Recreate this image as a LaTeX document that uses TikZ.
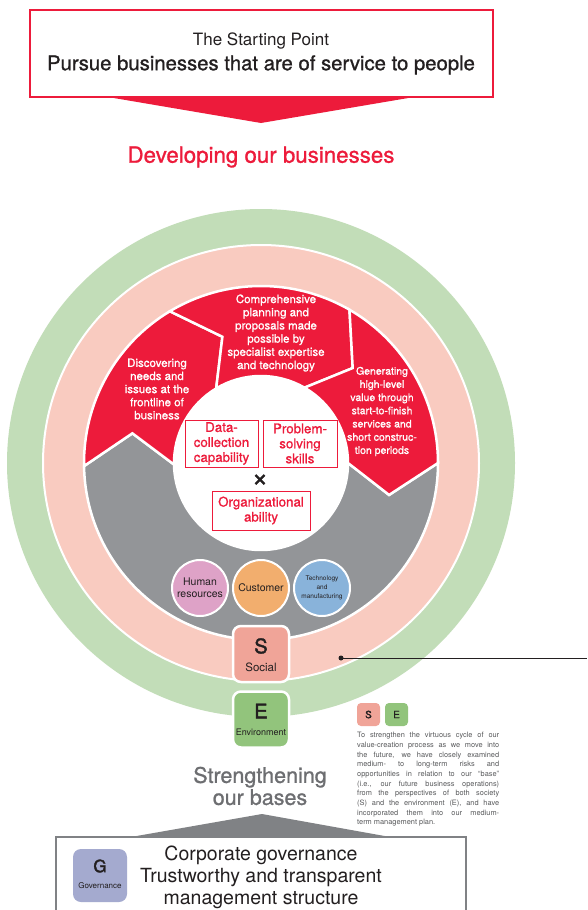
\documentclass[tikz,border=0pt]{standalone}
\usepackage{fontspec}
\setmainfont{TeX Gyre Heros}
\newfontfamily\medfont{TeX Gyre Heros}[FakeBold=2]
\newfontfamily\semifont{TeX Gyre Heros}[FakeBold=1]
\definecolor{cred}{RGB}{237,27,59}
\definecolor{cgray}{RGB}{147,149,152}
\definecolor{cpink}{RGB}{249,203,192}
\definecolor{cgreen}{RGB}{194,221,184}
\definecolor{csal}{RGB}{240,164,152}
\definecolor{cegreen}{RGB}{146,196,124}
\definecolor{chum}{RGB}{222,162,199}
\definecolor{ccust}{RGB}{242,174,110}
\definecolor{ctech}{RGB}{137,179,218}
\definecolor{cgov}{RGB}{164,170,207}
\definecolor{ctext}{RGB}{35,31,32}
\definecolor{cstr}{RGB}{109,110,113}
\definecolor{ctri}{RGB}{128,130,133}
\definecolor{cpara}{RGB}{88,89,91}
\newcommand\fs[2]{\fontsize{#1}{#2}\selectfont}
\newcommand\segfill[3]{\fill[#3, draw=white, line width=2.5pt, line join=miter]
  (#1:177) arc[start angle=#1, end angle=#2, radius=177] -- ({#2-14}:132) -- (#2:87)
  arc[start angle=#2, end angle=#1, radius=87] -- ({#1-14}:132) -- cycle;}
\tikzset{
  segtext/.style={text=white, align=center, inner sep=0pt},
  capbox/.style={draw=cred, line width=1pt, text=cred, align=center, inner sep=0pt, font=\semifont\fs{13.3}{15}},
  smallcirc/.style={circle, draw=white, line width=2pt, minimum size=56pt, inner sep=0pt, align=center, text=ctext},
  esgbox/.style={rounded corners=8pt, draw=white, line width=2.5pt, minimum width=56pt, minimum height=56pt, inner sep=0pt},
  minibox/.style={rounded corners=4pt, minimum width=23pt, minimum height=23pt, inner sep=0pt, font=\semifont\fs{10}{10}, text=ctext},
  plain/.style={inner sep=0pt, align=center}
}
\begin{document}
\begin{tikzpicture}[x=1pt,y=1pt]
\useasboundingbox (0,0) rectangle (587,-910);
\fill[white] (0,0) rectangle (587,-910);
% top box
\node[draw=cred, line width=1.4pt, minimum width=463pt, minimum height=87pt, inner sep=0pt, fill=white] (top) at (261.5,-53.5) {};
\fill[cred] (112,-97.7) -- (410,-97.7) -- (261,-123) -- cycle;
\node[plain, text=ctext, font=\fs{17}{17}] (start) at (261,-41) {The Starting Point};
\node[plain, text=ctext, font=\semifont\fs{20.3}{20.3}] (pursue) at (261,-65) {Pursue businesses that are of service to people};
\node[plain, text=cred, font=\semifont\fs{22.3}{22.3}] (dev) at (261,-157) {Developing our businesses};
% rings
\begin{scope}[shift={(261,-463)}]
\fill[cgreen] (0,0) circle (254);
\fill[cpink, draw=white, line width=2pt] (0,0) circle (218);
\segfill{0}{-179}{cgray}
\segfill{181}{121}{cred}
\segfill{121}{60}{cred}
\segfill{60}{0}{cred}
\fill[white] (0,0) circle (87);
\end{scope}
% segment texts
\node[segtext, font=\semifont\fs{11.5}{13.1}] (seg1) at (157,-389) {Discovering\\needs and\\issues at the\\frontline of\\business};
\node[segtext, font=\semifont\fs{11.5}{13.2}] (seg2) at (276,-333) {Comprehensive\\planning and\\proposals made\\possible by\\specialist expertise\\and technology};
\node[segtext, font=\semifont\fs{10.5}{13.2}] (seg3) at (382,-411.5) {Generating\\high-level\\value through\\start-to-finish\\services and\\short construc-\\tion periods};
% center boxes
\node[capbox, minimum width=73pt, minimum height=47pt] (data) at (221.5,-443.5) {Data-\\collection\\capability};
\node[capbox, minimum width=74pt, minimum height=47pt] (prob) at (300,-443.5) {Problem-\\solving\\skills};
\node[plain, text=ctext, font=\semifont\fs{28}{28}] (times) at (260,-480.5) {×};
\node[capbox, minimum width=98pt, minimum height=39pt] (org) at (261,-510.5) {Organizational\\ability};
% small circles
\node[smallcirc, fill=chum, font=\fs{10.5}{12}] (hr) at (200,-588) {Human\\resources};
\node[smallcirc, fill=ccust, font=\fs{10.5}{12}] (cust) at (261,-588) {Customer};
\node[smallcirc, fill=ctech, font=\fs{6.5}{9}] (tech) at (322,-588) {Technology\\and\\manufacturing};
% S and E boxes
\node[esgbox, fill=csal] (sbox) at (261,-654) {};
\node[plain, text=ctext, font=\medfont\fs{20}{20}] (slet) at (261,-646) {S};
\node[plain, text=ctext, font=\fs{11.5}{12}] (slab) at (261,-667) {Social};
\node[esgbox, fill=cegreen] (ebox) at (261,-719.5) {};
\node[plain, text=ctext, font=\medfont\fs{20}{20}] (elet) at (261,-711) {E};
\node[plain, text=ctext, font=\fs{9}{10}] (elab) at (261,-732.5) {Environment};
% pointer line
\coordinate (dot) at (341,-658);
\coordinate (lend) at (587,-658);
\fill[ctext] (dot) circle (2.5);
\draw[ctext, line width=1pt] (dot) -- (lend);
% legend
\node[minibox, fill=csal] (ms) at (368.5,-714.5) {S};
\node[minibox, fill=cegreen] (me) at (396.5,-714.5) {E};
\node[anchor=north west, inner sep=0pt, align=left, text=cpara, font=\fs{7.4}{9.7}] (para) at (357,-732) {%
\makebox[142pt][s]{To strengthen the virtuous cycle of our}\\
\makebox[142pt][s]{value-creation process as we move into}\\
\makebox[142pt][s]{the future, we have closely examined}\\
\makebox[142pt][s]{medium- to long-term risks and}\\
\makebox[142pt][s]{opportunities in relation to our “base”}\\
\makebox[142pt][s]{(i.e., our future business operations)}\\
\makebox[142pt][s]{from the perspectives of both society}\\
\makebox[142pt][s]{(S) and the environment (E), and have}\\
\makebox[142pt][s]{incorporated them into our medium-}\\
term management plan.};
% bottom
\node[plain, text=cstr, font=\semifont\fs{21.5}{22}] (str) at (260,-786) {Strengthening\\our bases};
\draw[ctri, line width=1.3pt, fill=white] (56,-912) -- (56,-837) -- (466,-837) -- (466,-912);
\fill[ctri] (128,-837.5) -- (393,-837.5) -- (262,-814) -- cycle;
\node[rounded corners=8pt, fill=cgov, minimum width=54pt, minimum height=53pt, inner sep=0pt] (gbox) at (100,-875.5) {};
\node[plain, text=ctext, font=\medfont\fs{17}{17}] (glet) at (100,-866) {G};
\node[plain, text=ctext, font=\fs{8}{9}] (glab) at (100,-886) {Governance};
\node[plain, text=ctext, font=\fs{19.5}{22}] (gov) at (261,-877) {Corporate governance\\Trustworthy and transparent\\management structure};
\end{tikzpicture}
\end{document}
